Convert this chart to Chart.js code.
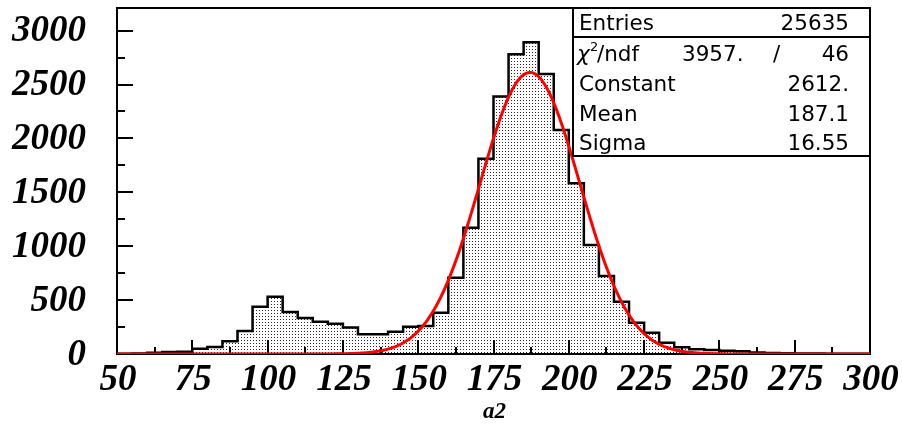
<!DOCTYPE html>
<html>
<head>
<meta charset="utf-8">
<title>a2</title>
<script src="https://cdn.jsdelivr.net/npm/chart.js@4/dist/chart.umd.min.js"></script>
<style>
  html, body { margin: 0; padding: 0; background: #fff; }
  canvas { display: block; }
</style>
</head>
<body>
<canvas id="c" width="902" height="424"></canvas>
<script>
// Histogram of a2: lower bin edges (width 5) and counts per bin
const binStarts = [50, 55, 60, 65, 70, 75, 80, 85, 90, 95,
                   100, 105, 110, 115, 120, 125, 130, 135, 140, 145,
                   150, 155, 160, 165, 170, 175, 180, 185, 190, 195,
                   200, 205, 210, 215, 220, 225, 230, 235, 240, 245,
                   250, 255, 260, 265, 270, 275, 280, 285, 290, 295];
const binWidth = 5;
const counts = [2, 5, 12, 18, 22, 48, 66, 118, 213, 439,
                532, 390, 334, 300, 281, 245, 183, 183, 207, 253,
                260, 383, 708, 1172, 1812, 2388, 2781, 2892, 2598, 2078,
                1584, 1011, 724, 485, 290, 198, 105, 62, 43, 37,
                31, 25, 15, 10, 7, 5, 4, 3, 2, 2];

// Axis ranges and tick labels
const xMin = 50, xMax = 300;
const yMin = 0, yMax = 3210;
const xTickLabels = [50, 75, 100, 125, 150, 175, 200, 225, 250, 275, 300];
const xMinorStep = 12.5;
const yTickLabels = [0, 500, 1000, 1500, 2000, 2500, 3000];
const yMinorStep = 250;
const xTitle = 'a2';

// Gaussian fit results shown in the statistics box
const fitConstant = 2612;
const fitMean = 187.1;
const fitSigma = 16.55;
const entries = 25635;
const chi2 = '3957.';
const ndf = 46;
const statNames = ['Constant', 'Mean', 'Sigma'];
const statValues = ['2612.', '187.1', '16.55'];

// Outline of the histogram as a stepped path: each point holds until the next edge
const histPoints = [{ x: binStarts[0], y: 0 }];
binStarts.forEach((b, i) => histPoints.push({ x: b, y: counts[i] }));
const lastEdge = binStarts[binStarts.length - 1] + binWidth;
histPoints.push({ x: lastEdge, y: counts[counts.length - 1] });
histPoints.push({ x: lastEdge, y: 0 });

// Fitted gaussian sampled over the axis range
const fitPoints = [];
for (let xv = xMin; xv <= xMax; xv += 0.5) {
  const t = (xv - fitMean) / fitSigma;
  fitPoints.push({ x: xv, y: fitConstant * Math.exp(-0.5 * t * t) });
}

// Stipple fill: small dark dots on a 3px grid
function makeStipple(ctx) {
  const tile = document.createElement('canvas');
  tile.width = 3; tile.height = 3;
  const tctx = tile.getContext('2d');
  tctx.fillStyle = '#2a2a2a';
  tctx.fillRect(1, 1, 1, 1);
  return ctx.createPattern(tile, 'repeat');
}

const SERIF = "'Liberation Serif', 'Times New Roman', serif";
const SANS = "'DejaVu Sans', sans-serif";

const framePlugin = {
  id: 'frameAndAxes',
  beforeDatasetsDraw(chart) {
    const { ctx, chartArea: a, scales: { x, y } } = chart;
    ctx.save();

    // Stippled area under the histogram
    ctx.beginPath();
    const y0 = Math.round(y.getPixelForValue(0));
    ctx.moveTo(Math.round(x.getPixelForValue(binStarts[0])), y0);
    binStarts.forEach((b, i) => {
      const py = Math.round(y.getPixelForValue(counts[i]));
      ctx.lineTo(Math.round(x.getPixelForValue(b)), py);
      ctx.lineTo(Math.round(x.getPixelForValue(b + binWidth)), py);
    });
    ctx.lineTo(Math.round(x.getPixelForValue(lastEdge)), y0);
    ctx.closePath();
    ctx.fillStyle = makeStipple(ctx);
    ctx.fill();

    ctx.strokeStyle = '#000';
    ctx.lineWidth = 2;
    ctx.lineCap = 'butt';
    ctx.strokeRect(a.left, a.top, a.right - a.left, a.bottom - a.top);

    ctx.beginPath();
    for (let v = yMin; v <= yMax; v += yMinorStep) {
      const py = Math.round(y.getPixelForValue(v));
      const len = (v % 500 === 0) ? 16 : 8;
      ctx.moveTo(a.left, py);
      ctx.lineTo(a.left + len, py);
    }
    for (let v = xMin; v <= xMax + 1e-6; v += xMinorStep) {
      const px = Math.round(x.getPixelForValue(v));
      const len = (Math.abs((v - xMin) % 25) < 1e-6) ? 14 : 7;
      ctx.moveTo(px, a.bottom);
      ctx.lineTo(px, a.bottom - len);
    }
    ctx.stroke();

    // Tick labels
    ctx.fillStyle = '#000';
    ctx.font = 'italic bold 37px ' + SERIF;
    ctx.textAlign = 'right';
    ctx.textBaseline = 'middle';
    yTickLabels.forEach(v => {
      ctx.fillText(String(v), 86, y.getPixelForValue(v) + 1);
    });
    ctx.textAlign = 'center';
    ctx.textBaseline = 'alphabetic';
    xTickLabels.forEach(v => {
      ctx.fillText(String(v), x.getPixelForValue(v) + 1, 390);
    });

    // Axis title
    ctx.font = 'italic bold 23px ' + SERIF;
    ctx.fillText(xTitle, (a.left + a.right) / 2 + 1, 418);
    ctx.restore();
  },
  afterDraw(chart) {
    const { ctx, chartArea: a } = chart;
    // Statistics box in the upper right corner
    const bx = 573, by = a.top, bw = a.right - bx, bh = 156 - a.top;
    ctx.save();
    ctx.fillStyle = '#fff';
    ctx.fillRect(bx, by, bw, bh);
    ctx.strokeStyle = '#000';
    ctx.lineWidth = 2;
    ctx.strokeRect(bx, by, bw, bh);
    ctx.beginPath();
    ctx.moveTo(bx, 37);
    ctx.lineTo(bx + bw, 37);
    ctx.stroke();

    ctx.fillStyle = '#000';
    ctx.textBaseline = 'alphabetic';
    const leftX = 579, rightX = 849;
    ctx.font = '21.5px ' + SANS;
    ctx.textAlign = 'left';
    ctx.fillText('Entries', leftX, 30);
    ctx.textAlign = 'right';
    ctx.fillText(String(entries), rightX, 30);

    // chi-square row
    ctx.textAlign = 'left';
    ctx.font = 'italic 21.5px ' + SANS;
    ctx.fillText('\u03C7', 577, 60.5);
    ctx.font = '13px ' + SANS;
    ctx.fillText('2', 590, 51);
    ctx.font = '21.5px ' + SANS;
    ctx.fillText('/ndf', 597, 60.5);
    ctx.fillText(chi2, 682, 60.5);
    ctx.fillText('/', 773, 60.5);
    ctx.textAlign = 'right';
    ctx.fillText(String(ndf), rightX, 60.5);

    const rowBase = [91, 120.5, 150];
    statNames.forEach((n, i) => {
      ctx.textAlign = 'left';
      ctx.fillText(n, leftX, rowBase[i]);
      ctx.textAlign = 'right';
      ctx.fillText(statValues[i], rightX, rowBase[i]);
    });
    ctx.restore();
  }
};

new Chart(document.getElementById('c'), {
  type: 'line',
  data: {
    datasets: [
      {
        label: 'fit',
        data: fitPoints,
        borderColor: '#ff0000',
        borderWidth: 3,
        pointRadius: 0,
        tension: 0,
        fill: false,
        order: 0
      },
      {
        label: 'a2',
        data: histPoints,
        stepped: true,
        borderColor: '#000',
        borderWidth: 2.5,
        pointRadius: 0,
        fill: false,
        order: 1
      }
    ]
  },
  options: {
    responsive: false,
    devicePixelRatio: 1,
    animation: false,
    events: [],
    layout: { padding: { left: 117, top: 8, right: 32, bottom: 70 } },
    plugins: { legend: { display: false }, tooltip: { enabled: false } },
    scales: {
      x: { type: 'linear', min: xMin, max: xMax, display: false },
      y: { type: 'linear', min: yMin, max: yMax, display: false }
    }
  },
  plugins: [framePlugin]
});
</script>
</body>
</html>
